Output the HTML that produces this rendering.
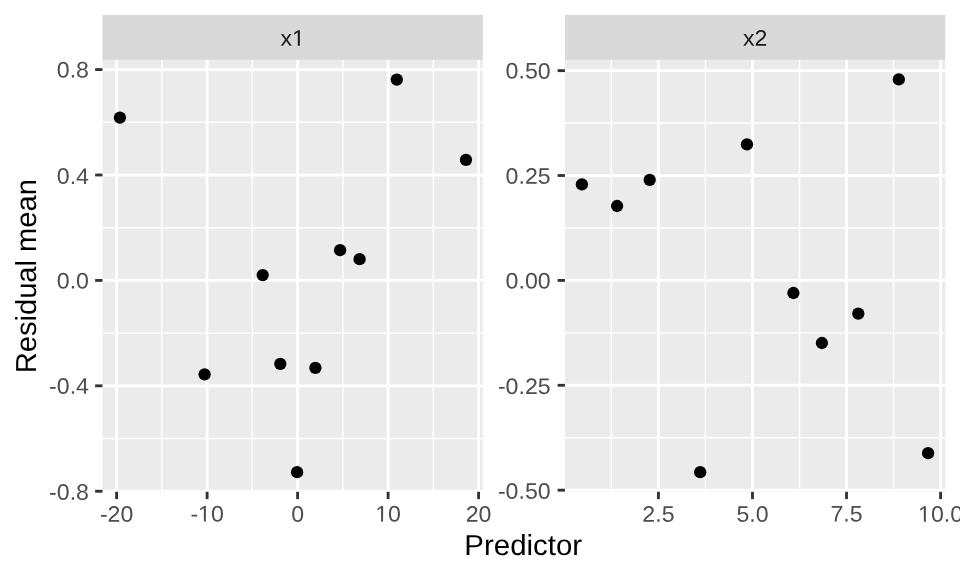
<!DOCTYPE html>
<html><head><meta charset="utf-8"><title>Residual mean vs Predictor</title>
<style>html,body{margin:0;padding:0;background:#fff;width:960px;height:576px;overflow:hidden}svg{display:block;filter:grayscale(1)}text{font-family:"Liberation Sans",Arial,Helvetica,sans-serif;text-rendering:geometricPrecision}</style>
</head><body>
<svg width="960" height="576" viewBox="0 0 960 576">
<rect x="0" y="0" width="960" height="576" fill="#ffffff"/>
<clipPath id="c1"><rect x="102.45" y="59.9" width="380.38" height="431.9"/></clipPath>
<rect x="102.45" y="59.9" width="380.38" height="431.9" fill="#ebebeb"/>
<g clip-path="url(#c1)" stroke="#ffffff" fill="none">
<line x1="102.45" y1="438.534" x2="482.83" y2="438.534" stroke-width="1.42"/>
<line x1="102.45" y1="333.118" x2="482.83" y2="333.118" stroke-width="1.42"/>
<line x1="102.45" y1="227.702" x2="482.83" y2="227.702" stroke-width="1.42"/>
<line x1="102.45" y1="122.286" x2="482.83" y2="122.286" stroke-width="1.42"/>
<line x1="161.853" y1="59.9" x2="161.853" y2="491.8" stroke-width="1.42"/>
<line x1="252.351" y1="59.9" x2="252.351" y2="491.8" stroke-width="1.42"/>
<line x1="342.849" y1="59.9" x2="342.849" y2="491.8" stroke-width="1.42"/>
<line x1="433.347" y1="59.9" x2="433.347" y2="491.8" stroke-width="1.42"/>
<line x1="102.45" y1="491.242" x2="482.83" y2="491.242" stroke-width="2.85"/>
<line x1="102.45" y1="385.826" x2="482.83" y2="385.826" stroke-width="2.85"/>
<line x1="102.45" y1="280.41" x2="482.83" y2="280.41" stroke-width="2.85"/>
<line x1="102.45" y1="174.994" x2="482.83" y2="174.994" stroke-width="2.85"/>
<line x1="102.45" y1="69.578" x2="482.83" y2="69.578" stroke-width="2.85"/>
<line x1="116.604" y1="59.9" x2="116.604" y2="491.8" stroke-width="2.85"/>
<line x1="207.102" y1="59.9" x2="207.102" y2="491.8" stroke-width="2.85"/>
<line x1="297.6" y1="59.9" x2="297.6" y2="491.8" stroke-width="2.85"/>
<line x1="388.098" y1="59.9" x2="388.098" y2="491.8" stroke-width="2.85"/>
<line x1="478.596" y1="59.9" x2="478.596" y2="491.8" stroke-width="2.85"/>
</g>
<g fill="#000000">
<circle cx="119.9" cy="117.6" r="6.15"/>
<circle cx="396.8" cy="79.6" r="6.15"/>
<circle cx="466" cy="159.85" r="6.15"/>
<circle cx="262.7" cy="275.1" r="6.15"/>
<circle cx="340.1" cy="250.2" r="6.15"/>
<circle cx="359.6" cy="259.2" r="6.15"/>
<circle cx="204.6" cy="374.3" r="6.15"/>
<circle cx="280.3" cy="363.8" r="6.15"/>
<circle cx="315.4" cy="367.9" r="6.15"/>
<circle cx="297.1" cy="472.2" r="6.15"/>
</g>
<g stroke="#333333" stroke-width="2.85">
<line x1="95.12" y1="491.242" x2="102.45" y2="491.242"/>
<line x1="95.12" y1="385.826" x2="102.45" y2="385.826"/>
<line x1="95.12" y1="280.41" x2="102.45" y2="280.41"/>
<line x1="95.12" y1="174.994" x2="102.45" y2="174.994"/>
<line x1="95.12" y1="69.578" x2="102.45" y2="69.578"/>
<line x1="116.604" y1="491.8" x2="116.604" y2="499.13"/>
<line x1="207.102" y1="491.8" x2="207.102" y2="499.13"/>
<line x1="297.6" y1="491.8" x2="297.6" y2="499.13"/>
<line x1="388.098" y1="491.8" x2="388.098" y2="499.13"/>
<line x1="478.596" y1="491.8" x2="478.596" y2="499.13"/>
</g>
<clipPath id="c2"><rect x="564.94" y="59.9" width="380.39" height="431.9"/></clipPath>
<rect x="564.94" y="59.9" width="380.39" height="431.9" fill="#ebebeb"/>
<g clip-path="url(#c2)" stroke="#ffffff" fill="none">
<line x1="564.94" y1="437.727" x2="945.33" y2="437.727" stroke-width="1.42"/>
<line x1="564.94" y1="332.842" x2="945.33" y2="332.842" stroke-width="1.42"/>
<line x1="564.94" y1="227.957" x2="945.33" y2="227.957" stroke-width="1.42"/>
<line x1="564.94" y1="123.072" x2="945.33" y2="123.072" stroke-width="1.42"/>
<line x1="611.389" y1="59.9" x2="611.389" y2="491.8" stroke-width="1.42"/>
<line x1="705.446" y1="59.9" x2="705.446" y2="491.8" stroke-width="1.42"/>
<line x1="799.504" y1="59.9" x2="799.504" y2="491.8" stroke-width="1.42"/>
<line x1="893.561" y1="59.9" x2="893.561" y2="491.8" stroke-width="1.42"/>
<line x1="564.94" y1="490.17" x2="945.33" y2="490.17" stroke-width="2.85"/>
<line x1="564.94" y1="385.285" x2="945.33" y2="385.285" stroke-width="2.85"/>
<line x1="564.94" y1="280.4" x2="945.33" y2="280.4" stroke-width="2.85"/>
<line x1="564.94" y1="175.515" x2="945.33" y2="175.515" stroke-width="2.85"/>
<line x1="564.94" y1="70.63" x2="945.33" y2="70.63" stroke-width="2.85"/>
<line x1="658.418" y1="59.9" x2="658.418" y2="491.8" stroke-width="2.85"/>
<line x1="752.475" y1="59.9" x2="752.475" y2="491.8" stroke-width="2.85"/>
<line x1="846.533" y1="59.9" x2="846.533" y2="491.8" stroke-width="2.85"/>
<line x1="940.59" y1="59.9" x2="940.59" y2="491.8" stroke-width="2.85"/>
</g>
<g fill="#000000">
<circle cx="581.9" cy="184.4" r="6.15"/>
<circle cx="617.1" cy="206" r="6.15"/>
<circle cx="649.7" cy="179.95" r="6.15"/>
<circle cx="747" cy="144.35" r="6.15"/>
<circle cx="898.8" cy="79.4" r="6.15"/>
<circle cx="793.4" cy="293" r="6.15"/>
<circle cx="821.9" cy="343" r="6.15"/>
<circle cx="858.3" cy="313.6" r="6.15"/>
<circle cx="700.2" cy="472.15" r="6.15"/>
<circle cx="928.1" cy="453.2" r="6.15"/>
</g>
<g stroke="#333333" stroke-width="2.85">
<line x1="557.61" y1="490.17" x2="564.94" y2="490.17"/>
<line x1="557.61" y1="385.285" x2="564.94" y2="385.285"/>
<line x1="557.61" y1="280.4" x2="564.94" y2="280.4"/>
<line x1="557.61" y1="175.515" x2="564.94" y2="175.515"/>
<line x1="557.61" y1="70.63" x2="564.94" y2="70.63"/>
<line x1="658.418" y1="491.8" x2="658.418" y2="499.13"/>
<line x1="752.475" y1="491.8" x2="752.475" y2="499.13"/>
<line x1="846.533" y1="491.8" x2="846.533" y2="499.13"/>
<line x1="940.59" y1="491.8" x2="940.59" y2="499.13"/>
</g>
<rect x="102.45" y="14.9" width="380.38" height="45" fill="#d9d9d9"/>
<rect x="564.94" y="14.9" width="380.39" height="45" fill="#d9d9d9"/>
<g transform="translate(292.64 45.803) rotate(0.05) scale(1 0.97)">
<text font-size="23.15" fill="#1a1a1a" text-anchor="middle">x1</text>
<rect x="0.113" y="-2.629" width="5.058" height="3.229" fill="#d9d9d9"/>
<rect x="7.217" y="-2.629" width="4.877" height="3.229" fill="#d9d9d9"/>
</g>
<text transform="translate(755.135 45.803) rotate(0.05) scale(1 0.97)" font-size="23.15" fill="#1a1a1a" text-anchor="middle">x2</text>
<text transform="translate(88.95 77.577) rotate(0.05) scale(1 0.97)" font-size="23.15" fill="#4d4d4d" text-anchor="end">0.8</text>
<text transform="translate(88.95 183.9) rotate(0.05) scale(1 0.97)" font-size="23.15" fill="#4d4d4d" text-anchor="end">0.4</text>
<text transform="translate(88.95 288.552) rotate(0.05) scale(1 0.97)" font-size="23.15" fill="#4d4d4d" text-anchor="end">0.0</text>
<text transform="translate(88.95 393.722) rotate(0.05) scale(1 0.97)" font-size="23.15" fill="#4d4d4d" text-anchor="end">-0.4</text>
<text transform="translate(88.95 499.762) rotate(0.05) scale(1 0.97)" font-size="23.15" fill="#4d4d4d" text-anchor="end">-0.8</text>
<text transform="translate(550.65 78.642) rotate(0.05) scale(1 0.97)" font-size="23.15" fill="#4d4d4d" text-anchor="end">0.50</text>
<text transform="translate(550.65 183.813) rotate(0.05) scale(1 0.97)" font-size="23.15" fill="#4d4d4d" text-anchor="end">0.25</text>
<text transform="translate(550.65 288.577) rotate(0.05) scale(1 0.97)" font-size="23.15" fill="#4d4d4d" text-anchor="end">0.00</text>
<text transform="translate(550.65 393.915) rotate(0.05) scale(1 0.97)" font-size="23.15" fill="#4d4d4d" text-anchor="end">-0.25</text>
<text transform="translate(550.65 498.78) rotate(0.05) scale(1 0.97)" font-size="23.15" fill="#4d4d4d" text-anchor="end">-0.50</text>
<text transform="translate(116.604 521.77) rotate(0.05) scale(1 0.97)" font-size="23.15" fill="#4d4d4d" text-anchor="middle">-20</text>
<g transform="translate(207.102 521.552) rotate(0.05) scale(1 0.97)">
<text font-size="23.15" fill="#4d4d4d" text-anchor="middle">-10</text>
<rect x="-8.257" y="-2.629" width="5.058" height="3.229" fill="#ffffff"/>
<rect x="-1.153" y="-2.629" width="4.877" height="3.229" fill="#ffffff"/>
</g>
<text transform="translate(297.6 521.66) rotate(0.05) scale(1 0.97)" font-size="23.15" fill="#4d4d4d" text-anchor="middle">0</text>
<g transform="translate(388.098 521.552) rotate(0.05) scale(1 0.97)">
<text font-size="23.15" fill="#4d4d4d" text-anchor="middle">10</text>
<rect x="-12.112" y="-2.629" width="5.058" height="3.229" fill="#ffffff"/>
<rect x="-5.008" y="-2.629" width="4.877" height="3.229" fill="#ffffff"/>
</g>
<text transform="translate(478.596 521.672) rotate(0.05) scale(1 0.97)" font-size="23.15" fill="#4d4d4d" text-anchor="middle">20</text>
<text transform="translate(658.418 521.769) rotate(0.05) scale(1 0.97)" font-size="23.15" fill="#4d4d4d" text-anchor="middle">2.5</text>
<text transform="translate(752.475 521.644) rotate(0.05) scale(1 0.97)" font-size="23.15" fill="#4d4d4d" text-anchor="middle">5.0</text>
<text transform="translate(846.533 521.586) rotate(0.05) scale(1 0.97)" font-size="23.15" fill="#4d4d4d" text-anchor="middle">7.5</text>
<g transform="translate(940.59 521.7) rotate(0.05) scale(1 0.97)">
<text font-size="23.15" fill="#4d4d4d" text-anchor="middle">10.0</text>
<rect x="-21.765" y="-2.629" width="5.058" height="3.229" fill="#ffffff"/>
<rect x="-14.661" y="-2.629" width="4.877" height="3.229" fill="#ffffff"/>
</g>
<text transform="translate(523.214 555) rotate(0.05) scale(1.003 0.985)" font-size="29.33" fill="#000000" text-anchor="middle">Predictor</text>
<text transform="translate(36.005 276.175) rotate(-89.95) scale(0.993 0.985)" font-size="29.33" fill="#000000" text-anchor="middle">Residual mean</text>
</svg>
</body></html>
